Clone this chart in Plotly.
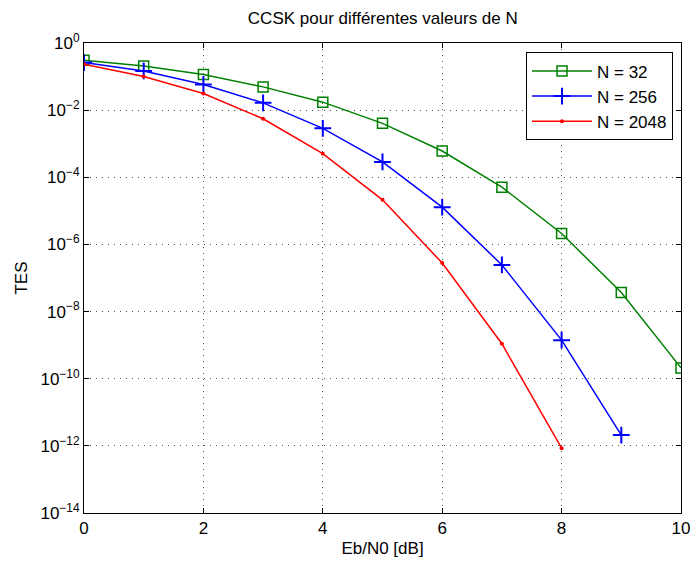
import plotly.graph_objects as go

ebn0 = [0, 1, 2, 3, 4, 5, 6, 7, 8, 9, 10]
tes_32 = [0.306, 0.207, 0.115, 0.0493, 0.0173, 0.00404, 6.07e-4, 5.07e-5, 2.12e-6, 3.68e-8, 2.1e-10]
tes_256 = [0.262, 0.147, 0.058, 0.0165, 0.00287, 2.86e-4, 1.29e-5, 2.45e-7, 1.41e-9, 2.1e-12]
tes_2048 = [0.233, 0.100, 0.0314, 0.00553, 5.05e-4, 2.13e-5, 2.8e-7, 1.1e-9, 8.5e-13]

names = ["N = 32", "N = 256", "N = 2048"]
colors = ["#008000", "#0000ff", "#ff0000"]

y_tickvals = [1, 1e-2, 1e-4, 1e-6, 1e-8, 1e-10, 1e-12, 1e-14]
y_ticktext = ["10<sup>0</sup>", "10<sup>−2</sup>", "10<sup>−4</sup>", "10<sup>−6</sup>",
              "10<sup>−8</sup>", "10<sup>−10</sup>", "10<sup>−12</sup>", "10<sup>−14</sup>"]
x_tickvals = [0, 2, 4, 6, 8, 10]

font = "Liberation Sans, Arial, sans-serif"
fs = 17

fig = go.Figure()
fig.add_trace(go.Scatter(x=ebn0[:len(tes_32)], y=tes_32, name=names[0], mode="lines+markers",
                         line=dict(color=colors[0], width=1.5),
                         marker=dict(symbol="square-open", size=10, color=colors[0], line=dict(width=1.5))))
fig.add_trace(go.Scatter(x=ebn0[:len(tes_256)], y=tes_256, name=names[1], mode="lines+markers",
                         line=dict(color=colors[1], width=1.5),
                         marker=dict(symbol="cross-thin-open", size=12, color=colors[1], line=dict(width=2, color=colors[1]))))
fig.add_trace(go.Scatter(x=ebn0[:len(tes_2048)], y=tes_2048, name=names[2], mode="lines+markers",
                         line=dict(color=colors[2], width=1.5),
                         marker=dict(symbol="circle", size=4, color=colors[2])))

fig.update_layout(
    width=691, height=561,
    margin=dict(l=84, r=10, t=43, b=47.5, autoexpand=False),
    paper_bgcolor="white", plot_bgcolor="white",
    font=dict(family=font, size=fs, color="black"),
    title=dict(text="CCSK pour différentes valeurs de N", x=0.554, xanchor="center",
               y=0.968, yanchor="middle", font=dict(size=fs, family=font)),
    showlegend=True,
    legend=dict(x=0.9866, xanchor="right", y=0.980, yanchor="top",
                bgcolor="white", bordercolor="black", borderwidth=1,
                font=dict(size=fs, family=font), tracegroupgap=0, itemwidth=60),
)
fig.update_xaxes(range=[0, 10], tickvals=x_tickvals, automargin=False, ticklabeloverflow="allow",
                 showline=True, linecolor="black", linewidth=1, mirror="allticks",
                 ticks="inside", ticklen=5, tickcolor="black",
                 showgrid=True, gridcolor="#555555", griddash="1px,5px", gridwidth=1,
                 zeroline=False,
                 title=dict(text="Eb/N0 [dB]", font=dict(size=fs), standoff=4),
                 tickfont=dict(size=fs))
fig.update_yaxes(type="log", range=[-14, 0], tickvals=y_tickvals, ticktext=y_ticktext, automargin=False,
                 ticklabeloverflow="allow",
                 showline=True, linecolor="black", linewidth=1, mirror="allticks",
                 ticks="inside", ticklen=5, tickcolor="black",
                 showgrid=True, gridcolor="#555555", griddash="1px,5px", gridwidth=1,
                 zeroline=False,
                 title=dict(text="TES", font=dict(size=fs), standoff=8),
                 tickfont=dict(size=fs))

fig.write_html("out.html", config={"displayModeBar": False},
               post_script="document.body.style.margin='0px';")
